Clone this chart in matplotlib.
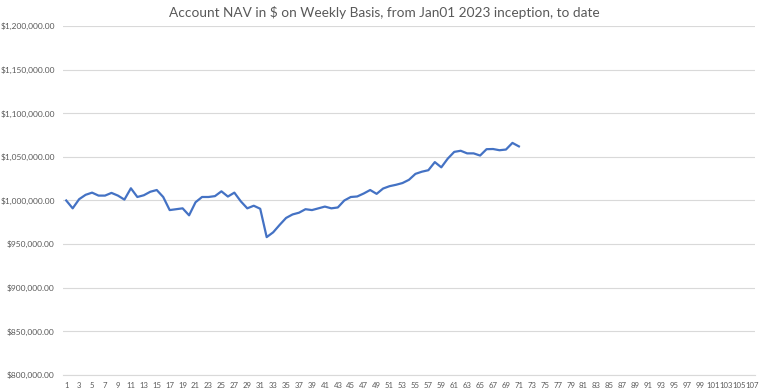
import matplotlib
matplotlib.use("Agg")
import matplotlib.pyplot as plt
from matplotlib.ticker import FuncFormatter, MultipleLocator

plt.rcParams['font.family'] = ['Lato', 'DejaVu Sans']

weeks = list(range(1, 108))
nav = [
    1000000, 991000, 1001500, 1006500, 1009000, 1005600, 1005600, 1008700, 1005600, 1001000,
    1014000, 1004000, 1006000, 1010000, 1012000, 1004000, 989000, 990000, 991000, 983000,
    998000, 1004000, 1004000, 1005000, 1010500, 1004500, 1009000, 999000, 991000, 994000,
    990500, 958000, 963500, 972000, 980000, 984000, 986000, 990000, 989000, 991000,
    993000, 991000, 992000, 1000000, 1004000, 1004600, 1008000, 1012000, 1007600, 1013700,
    1016400, 1018000, 1020000, 1023700, 1030500, 1033000, 1034700, 1044000, 1038000, 1048000,
    1055700, 1057000, 1054000, 1054000, 1051500, 1058800, 1059000, 1057600, 1058400, 1066000,
    1062000,
]
title = "Account NAV in $ on Weekly Basis, from Jan01 2023 inception, to date"

fig = plt.figure(figsize=(7.68, 3.91), dpi=100)
ax = fig.add_axes([0.082, 0.041, 0.901, 0.8925])

ax.plot(weeks[:len(nav)], nav, color='#4472C4', linewidth=1.6, solid_joinstyle='round')

ax.set_xlim(0.5, 107.5)
ax.set_ylim(800000, 1200000)
ax.yaxis.set_major_locator(MultipleLocator(50000))
ax.yaxis.set_major_formatter(FuncFormatter(lambda v, p: "${:,.2f}".format(v)))
ax.set_xticks(weeks[::2])
ax.set_xticklabels([str(w) for w in weeks[::2]])

ax.grid(axis='y', color='#D9D9D9', linewidth=0.8)
ax.set_axisbelow(True)
for s in ['top', 'right', 'left']:
    ax.spines[s].set_visible(False)
ax.spines['bottom'].set_color('#D9D9D9')
ax.spines['bottom'].set_linewidth(0.8)
ax.tick_params(axis='both', length=0, colors='#595959')
ax.tick_params(axis='x', pad=5, labelsize=5.6)
ax.tick_params(axis='y', pad=6, labelsize=6)

fig.text(0.5, 0.968, title, ha='center', va='center', fontsize=9.8, color='#595959')

fig.savefig('out.png', dpi=100, facecolor='white')
